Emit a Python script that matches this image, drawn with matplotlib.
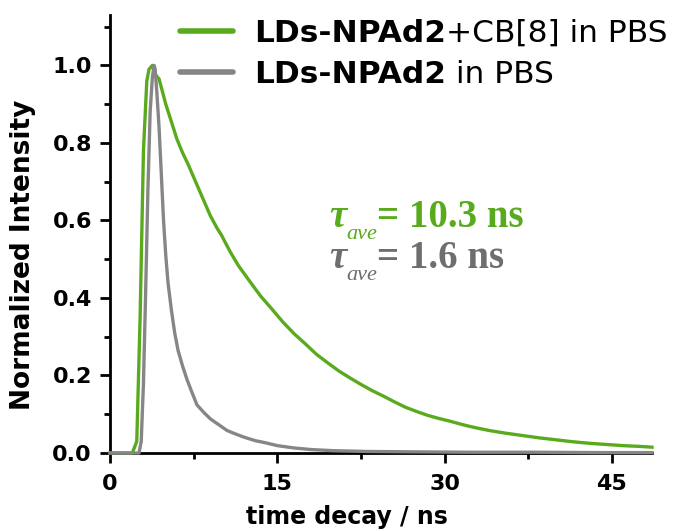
"""Declin de fluorescence normalise : LDs-NPAd2 avec et sans CB[8] (PBS)."""

import matplotlib

matplotlib.use("Agg")
import matplotlib.pyplot as plt
from matplotlib.lines import Line2D
from matplotlib.ticker import FormatStrFormatter, MultipleLocator

GREEN = "#5aaa1e"
GRAY = "#868686"

# courbes (temps en ns, intensite normalisee)
green_t = [0, 2.0, 2.4, 2.7, 3.0, 3.3, 3.5, 3.8, 4.1, 4.4, 5.0, 5.5, 6.0,
           6.5, 7.0, 7.6, 8.2, 9.0, 9.6, 10.0, 10.3, 10.8, 11.5, 12.5, 13.5,
           14.5, 15.5, 16.5, 17.5, 18.5, 19.5, 20.5, 21.5, 22.5, 23.5, 24.5,
           25.5, 26.5, 27.5, 28.5, 29.5, 30.5, 31.0, 31.5, 32.5, 34.0, 35.5,
           37.0, 38.5, 40.0, 41.5, 43.0, 44.5, 46.0, 47.5, 48.6]
green_y = [0.0, 0.0, 0.03, 0.35, 0.78, 0.96, 0.99, 1.0, 0.975, 0.965, 0.90,
           0.855, 0.81, 0.775, 0.745, 0.705, 0.665, 0.612, 0.580, 0.562,
           0.545, 0.518, 0.484, 0.444, 0.405, 0.372, 0.338, 0.308, 0.282,
           0.255, 0.233, 0.212, 0.194, 0.177, 0.161, 0.147, 0.132, 0.118,
           0.107, 0.097, 0.089, 0.082, 0.078, 0.074, 0.067, 0.058, 0.051,
           0.045, 0.039, 0.034, 0.029, 0.025, 0.022, 0.019, 0.017, 0.015]

gray_t = [0, 2.6, 2.8, 3.0, 3.2, 3.4, 3.6, 3.8, 3.95, 4.05, 4.2, 4.4, 4.6,
          4.8, 5.0, 5.2, 5.5, 5.8, 6.1, 6.5, 6.9, 7.3, 7.8, 8.4, 9.0, 9.8,
          10.5, 11.0, 12.0, 13.0, 14.0, 15.0, 16.5, 18.0, 20.0, 23.0, 27.0,
          32.0, 38.0, 44.0, 48.6]
gray_y = [0.0, 0.0, 0.03, 0.18, 0.42, 0.68, 0.88, 0.97, 1.0, 0.99, 0.93,
          0.84, 0.72, 0.60, 0.51, 0.44, 0.37, 0.31, 0.265, 0.225, 0.19, 0.16,
          0.124, 0.105, 0.088, 0.072, 0.058, 0.052, 0.041, 0.032, 0.026,
          0.019, 0.013, 0.009, 0.006, 0.004, 0.003, 0.002, 0.002, 0.001,
          0.001]

labels_bold = ["LDs-NPAd2", "LDs-NPAd2"]
labels_rest = ["+CB[8] in PBS", " in PBS"]
tau_values = ["10.3", "1.6"]

W, H = 680, 531
fig = plt.figure(figsize=(W / 100, H / 100), dpi=100)
ax = fig.add_axes([110 / W, 1 - 453 / H, 542 / W, 438 / H])

ax.plot(green_t, green_y, color=GREEN, lw=2.4, zorder=3, clip_on=False)
ax.plot(gray_t, gray_y, color=GRAY, lw=2.4, zorder=3, clip_on=False)

ax.set_xlim(0, 48.6)
ax.set_ylim(0, 1.13)
ax.xaxis.set_major_locator(MultipleLocator(15))
ax.xaxis.set_minor_locator(MultipleLocator(7.5))
ax.yaxis.set_major_locator(MultipleLocator(0.2))
ax.yaxis.set_minor_locator(MultipleLocator(0.1))
ax.yaxis.set_major_formatter(FormatStrFormatter("%.1f"))
for s in ("top", "right"):
    ax.spines[s].set_visible(False)
for s in ("left", "bottom"):
    ax.spines[s].set_linewidth(2)
ax.tick_params(which="major", length=7, width=2, direction="out")
ax.tick_params(axis="y", which="major", pad=6)
ax.tick_params(axis="x", which="major", pad=8)
ax.tick_params(which="minor", length=4, width=2, direction="out")
for lab in ax.get_xticklabels() + ax.get_yticklabels():
    lab.set_weight("bold")
    lab.set_fontsize(16)

ax.set_xlabel("time decay / ns", fontsize=17, weight="bold")
ax.set_ylabel("Normalized Intensity", fontsize=19, weight="bold")
ax.xaxis.set_label_coords(0.437, -0.118)
ax.yaxis.set_label_coords(-0.137, 0.452)

# legende faite a la main (partie en gras + partie normale)
for i, col in enumerate([GREEN, GRAY]):
    yl = 31 + 41 * i
    fig.add_artist(Line2D([180 / W, 233 / W], [1 - yl / H, 1 - yl / H],
                          color=col, lw=4, solid_capstyle="round"))
    t1 = fig.text(254 / W, 1 - (yl + 11) / H, labels_bold[i], fontsize=22.5,
                  weight="bold", va="baseline")
    ax.annotate(labels_rest[i], xy=(1, 0), xycoords=t1, va="bottom",
                fontsize=22.5, annotation_clip=False)

# durees de vie moyennes
for i, col in enumerate([GREEN, "#6e6e6e"]):
    base = 227 + 41 * i
    t1 = fig.text(329 / W, 1 - base / H, "\u03c4", fontsize=28,
                  family="Liberation Serif", style="italic", weight="bold",
                  color=col, va="baseline")
    t2 = ax.annotate("ave", xy=(1, 0), xycoords=t1, xytext=(0, -6),
                     textcoords="offset points", va="bottom", fontsize=16,
                     family="Liberation Serif", style="italic", color=col,
                     annotation_clip=False)
    ax.annotate("= " + tau_values[i] + " ns", xy=(1, 0), xycoords=t2,
                xytext=(0, 6), textcoords="offset points", va="bottom",
                fontsize=28, family="Liberation Serif", weight="bold",
                color=col, annotation_clip=False)

fig.savefig("out.png", dpi=100)
